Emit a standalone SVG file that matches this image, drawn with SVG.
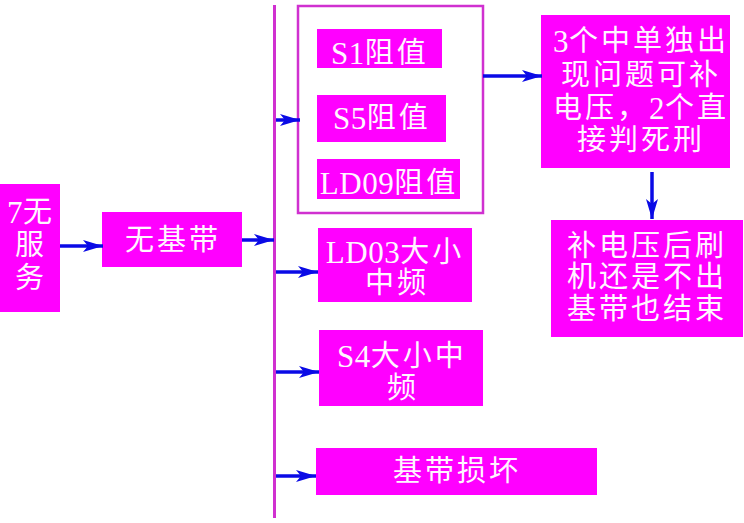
<svg xmlns="http://www.w3.org/2000/svg" width="744" height="523" viewBox="0 0 744 523">
<defs>
<marker id="ah" markerUnits="userSpaceOnUse" markerWidth="22" markerHeight="14" refX="20" refY="7" orient="auto">
<path d="M0,1 L20,7 L0,13 L5,7 z" fill="#0a0ae6"/>
</marker>
<style>
.box{fill:#ff00ff}
.t{fill:#fff6ff;font-family:"Liberation Serif","Noto Sans CJK SC",serif;font-size:29px;letter-spacing:3px;text-anchor:middle;dominant-baseline:central}
.l{letter-spacing:0.5px;font-size:31px}
.c{stroke:#0a0ae6;stroke-width:3.5;fill:none;marker-end:url(#ah)}
</style>
</defs>
<rect width="744" height="523" fill="#ffffff"/>
<g id="n1"><rect class="box" x="0" y="184" width="60" height="128"/>
<text class="t" x="31" y="212"><tspan class="l">7</tspan>无</text><text class="t" x="31" y="245">服</text><text class="t" x="31" y="278">务</text></g>
<g id="n2"><rect class="box" x="102" y="212" width="140" height="55"/><text class="t" x="173" y="240">无基带</text></g>
<g id="bus"><line x1="274.5" y1="5" x2="274.5" y2="518" stroke="#d030d0" stroke-width="3"/></g>
<g id="grp"><rect x="298" y="6" width="185" height="207" fill="none" stroke="#d030d0" stroke-width="2.5"/></g>
<g id="n3"><rect class="box" x="317" y="29" width="125" height="39"/><text class="t" x="380" y="53"><tspan class="l">S1</tspan>阻值</text></g>
<g id="n4"><rect class="box" x="317" y="95" width="129" height="47"/><text class="t" x="382" y="118"><tspan class="l">S5</tspan>阻值</text></g>
<g id="n5"><rect class="box" x="317" y="159" width="143" height="40"/><text class="t" x="389" y="183"><tspan class="l">LD09</tspan>阻值</text></g>
<g id="n6"><rect class="box" x="541" y="15" width="189" height="153"/>
<text class="t" x="641" y="41"><tspan class="l">3</tspan>个中单独出</text><text class="t" x="641" y="75">现问题可补</text><text class="t" x="641" y="108">电压，<tspan class="l">2</tspan>个直</text><text class="t" x="641" y="140">接判死刑</text></g>
<g id="n7"><rect class="box" x="551" y="220" width="192" height="117"/>
<text class="t" x="647" y="246">补电压后刷</text><text class="t" x="647" y="277">机还是不出</text><text class="t" x="647" y="309">基带也结束</text></g>
<g id="n8"><rect class="box" x="318" y="228" width="154" height="74"/>
<text class="t" x="395" y="252"><tspan class="l">LD03</tspan>大小</text><text class="t" x="397" y="283">中频</text></g>
<g id="n9"><rect class="box" x="319" y="330" width="164" height="76"/>
<text class="t" x="402" y="356"><tspan class="l">S4</tspan>大小中</text><text class="t" x="403" y="388">频</text></g>
<g id="n10"><rect class="box" x="316" y="448" width="281" height="47"/><text class="t" x="457" y="471">基带损坏</text></g>
<g id="connectors">
<line class="c" x1="60" y1="246" x2="103" y2="246"/>
<line class="c" x1="242" y1="240" x2="274" y2="240"/>
<line class="c" x1="276" y1="120" x2="300" y2="120"/>
<line class="c" x1="483" y1="76" x2="542" y2="76"/>
<line class="c" x1="652" y1="172" x2="652" y2="219"/>
<line class="c" x1="276" y1="272" x2="318" y2="272"/>
<line class="c" x1="276" y1="372" x2="319" y2="372"/>
<line class="c" x1="276" y1="476" x2="316" y2="476"/>
</g>
</svg>
